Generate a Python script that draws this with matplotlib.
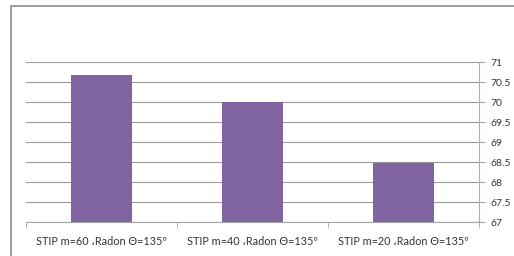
import matplotlib.pyplot as plt
from matplotlib.patches import Rectangle
import numpy as np

categories = ['STIP m=60 \u060cRadon \u0398=135\u00ba',
              'STIP m=40 \u060cRadon \u0398=135\u00ba',
              'STIP m=20 \u060cRadon \u0398=135\u00ba']
values = [70.68, 70.0, 68.48]
yticks = [67, 67.5, 68, 68.5, 69, 69.5, 70, 70.5, 71]

plt.rcParams['font.family'] = ['Lato', 'DejaVu Sans']

fig = plt.figure(figsize=(5.14, 2.56), dpi=100)
ax = fig.add_axes([26 / 514, 1 - 222 / 256, (479 - 26) / 514, 160 / 256])

# chart area border (runs off the right and bottom edge)
fig.patches.append(Rectangle((11 / 514, -0.2), 1.2, 1.2 - 6 / 256,
                             transform=fig.transFigure, fill=False,
                             edgecolor='#8c8c8c', linewidth=1.2))

x = np.arange(len(categories))
ax.bar(x, values, width=0.4, color='#8064a2', zorder=3)

ax.set_ylim(67, 71)
ax.set_xlim(-0.5, 2.5)
ax.set_yticks(yticks)
ax.set_yticklabels([f'{t:g}' for t in yticks], fontsize=7.5, color='#333333')
ax.yaxis.tick_right()
ax.yaxis.grid(True, color='#9a9a9a', linewidth=0.8, zorder=0)

ax.set_xticks(x)
ax.set_xticklabels(categories, fontsize=7.8, color='#333333')
ax.set_xticks([-0.5, 0.5, 1.5, 2.5], minor=True)
ax.tick_params(axis='x', which='major', length=0, pad=10)
ax.tick_params(axis='x', which='minor', length=4, color='#a6a6a6')
ax.tick_params(axis='y', length=4, color='#a6a6a6', pad=4)

for s in ['top', 'left']:
    ax.spines[s].set_visible(False)
ax.spines['right'].set_color('#b0b0b0')
ax.spines['bottom'].set_color('#a6a6a6')

fig.savefig('out.png', dpi=100)
